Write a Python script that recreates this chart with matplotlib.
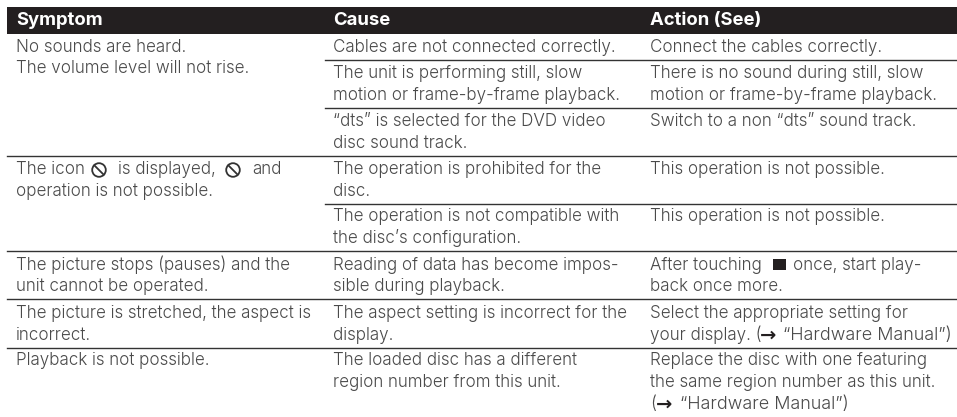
import matplotlib
matplotlib.use("Agg")
import matplotlib.pyplot as plt
from matplotlib.patches import Circle, Rectangle

plt.rcParams["font.family"] = ["Inter", "DejaVu Sans"]

headers = ["Symptom", "Cause", "Action (See)"]

symptoms = [
    ["No sounds are heard.", "The volume level will not rise."],
    ["", "operation is not possible."],
    ["The picture stops (pauses) and the", "unit cannot be operated."],
    ["The picture is stretched, the aspect is", "incorrect."],
    ["Playback is not possible."],
]
causes = [
    ["Cables are not connected correctly."],
    ["The unit is performing still, slow", "motion or frame-by-frame playback."],
    ["\u201cdts\u201d is selected for the DVD video", "disc sound track."],
    ["The operation is prohibited for the", "disc."],
    ["The operation is not compatible with", "the disc\u2019s configuration."],
    ["Reading of data has become impos-", "sible during playback."],
    ["The aspect setting is incorrect for the", "display."],
    ["The loaded disc has a different", "region number from this unit."],
]
actions = [
    ["Connect the cables correctly."],
    ["There is no sound during still, slow", "motion or frame-by-frame playback."],
    ["Switch to a non \u201cdts\u201d sound track."],
    ["This operation is not possible."],
    ["This operation is not possible."],
    ["", "back once more."],
    ["Select the appropriate setting for"],
    ["Replace the disc with one featuring", "the same region number as this unit."],
]
# lines broken up by an icon, square or arrow
icon_line_parts = ["The icon", "is displayed,", "and"]
stop_line_parts = ["After touching", "once, start play-"]
manual_line_a = ["your display. (", "\u201cHardware Manual\u201d)"]
manual_line_b = ["(", "\u201cHardware Manual\u201d)"]
arrow = "\u2192"

# pixel layout
col_x = [16, 333, 650]
symptom_y = [51.7, 174.3, 269.7, 318, 365.3]
row_y = [51.7, 78.3, 126, 174.3, 221.3, 269.7, 318, 365.3]
full_rules = [155.7, 251.3, 299.3, 348]
part_rules = [60, 107.7, 204]
line_h = 21.7
text_col = "#4a4a4a"
fs = 12.25
head_fs = 13.3
manual_fs = 12.9

fig = plt.figure(figsize=(9.57, 4.17), dpi=100)
ax = fig.add_axes([0, 0, 1, 1])
ax.set_xlim(0, 957)
ax.set_ylim(417, 0)
ax.axis("off")

ax.add_patch(Rectangle((7, 7), 950, 26.7, color="#231f20", lw=0))
for x, h in zip(col_x, headers):
    ax.text(x, 24.5, h, color="white", fontsize=head_fs, fontweight="bold", va="baseline")

for y in full_rules:
    ax.plot([7, 957], [y, y], color="#333333", lw=1.0)
for y in part_rules:
    ax.plot([325, 957], [y, y], color="#333333", lw=1.0)


def put(x, y, s, size=fs):
    ax.text(x, y, s, color=text_col, fontsize=size, fontweight=300, va="baseline")


def put_cell(x, y, lines):
    for i, s in enumerate(lines):
        if s:
            put(x, y + i * line_h, s)


def put_arrow(x, y):
    ax.text(x, y, arrow, color="#231f20", fontsize=14, fontweight="bold",
            family="DejaVu Sans", va="baseline")


for y, lines in zip(symptom_y, symptoms):
    put_cell(col_x[0], y, lines)
for y, lines in zip(row_y, causes):
    put_cell(col_x[1], y, lines)
for y, lines in zip(row_y, actions):
    put_cell(col_x[2], y, lines)

# line with the two prohibition icons
for x, s in zip([16, 118, 252], icon_line_parts):
    put(x, symptom_y[1], s)
for cx in [99, 233]:
    ax.add_patch(Circle((cx, 170), 6.8, fill=False, ec="#333333", lw=1.3))
    ax.plot([cx - 4.7, cx + 4.7], [170 - 4.7, 170 + 4.7], color="#333333", lw=1.3)

# stop square
put(650, row_y[5], stop_line_parts[0])
put(793, row_y[5], stop_line_parts[1])
ax.add_patch(Rectangle((773, 259), 13, 11, color="#231f20", lw=0))

# arrows
put(650, row_y[6] + line_h, manual_line_a[0])
put_arrow(760, row_y[6] + line_h + 1)
put(783, row_y[6] + line_h, manual_line_a[1], manual_fs)
put(650, row_y[7] + 2 * line_h, manual_line_b[0])
put_arrow(656, row_y[7] + 2 * line_h + 1)
put(680, row_y[7] + 2 * line_h, manual_line_b[1], manual_fs)

fig.savefig("out.png", dpi=100)
